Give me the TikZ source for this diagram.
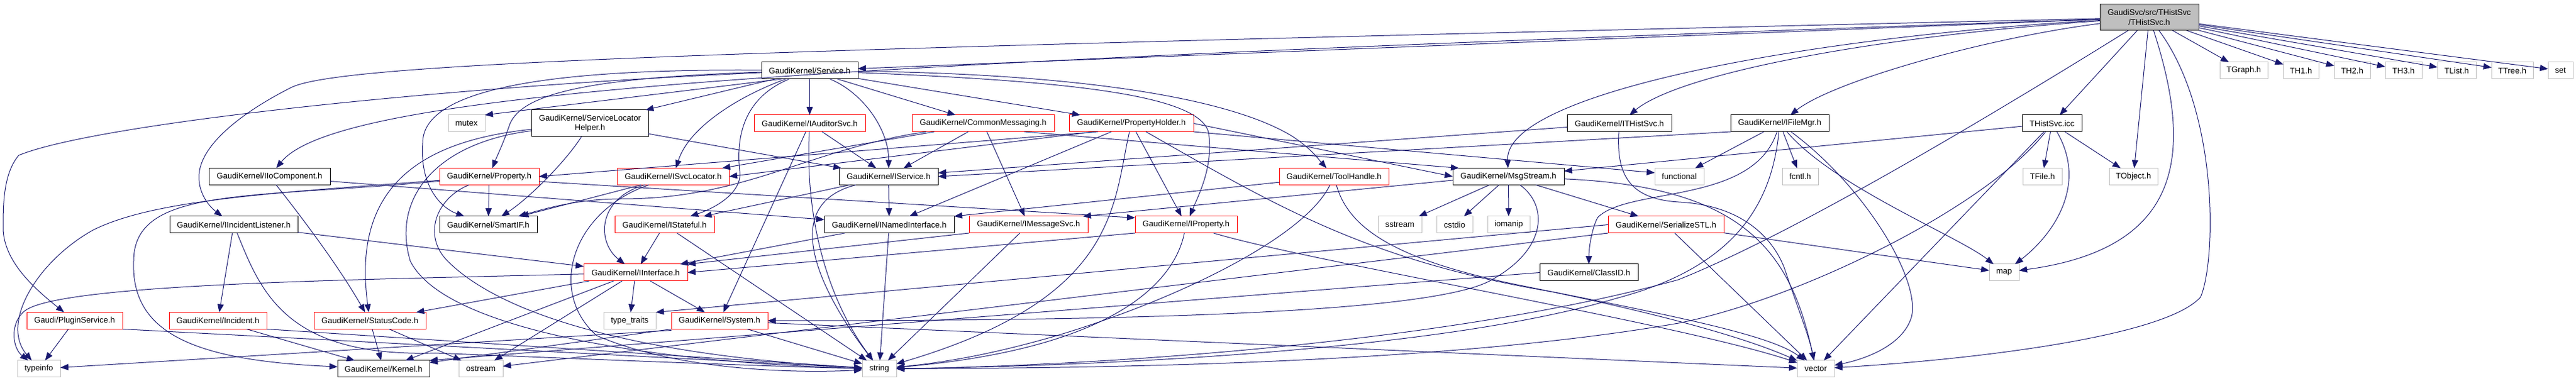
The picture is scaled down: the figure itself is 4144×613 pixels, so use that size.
\documentclass[tikz,border=0pt]{standalone}
\usepackage{fontspec}
\setmainfont{Liberation Sans}
\usetikzlibrary{arrows.meta}
\definecolor{edgec}{HTML}{191970}
\definecolor{grayb}{HTML}{BFBFBF}
\tikzset{
  box/.style={rectangle, inner sep=0pt, outer sep=0pt, line width=0.5pt, align=center, fill=white, minimum height=13.5pt, font=\fontsize{6.55}{7.8}\selectfont},
  nb/.style={box, draw=black},
  rb/.style={box, draw=red},
  gb/.style={box, draw=grayb},
  dep/.style={draw=edgec, line width=0.5pt, -{Triangle[length=6.5pt,width=5pt]}},
}
\begin{document}
\begin{tikzpicture}[x=0.5pt,y=-0.5pt]
\useasboundingbox (0,0) rectangle (4144,613);
% ---------- nodes ----------
\node[nb, fill=grayb, minimum width=79.5pt, minimum height=21pt] (t) at (3457.5,28) {GaudiSvc/src/THistSvc\\/THistSvc.h};
% row 1
\node[nb, minimum width=77.5pt] (sv) at (1302.5,113.5) {GaudiKernel/Service.h};
\node[gb, minimum width=38.5pt] (tgraph) at (3609.5,113.5) {TGraph.h};
\node[gb, minimum width=28.5pt] (th1) at (3701.5,113.5) {TH1.h};
\node[gb, minimum width=29pt] (th2) at (3784,113.5) {TH2.h};
\node[gb, minimum width=29.5pt] (th3) at (3866.5,113.5) {TH3.h};
\node[gb, minimum width=31pt] (tlist) at (3952,113.5) {TList.h};
\node[gb, minimum width=33.5pt] (ttree) at (4041.5,113.5) {TTree.h};
\node[gb, minimum width=20pt] (set) at (4119,113.5) {set};
% row 2
\node[gb, minimum width=29.5pt] (mutex) at (750.5,198.5) {mutex};
\node[nb, minimum width=94pt, minimum height=21.5pt] (slh) at (949,198.5) {GaudiKernel/ServiceLocator\\Helper.h};
\node[rb, minimum width=89.5pt] (ias) at (1302.5,198.5) {GaudiKernel/IAuditorSvc.h};
\node[rb, minimum width=114.5pt] (cm) at (1581.5,198.5) {GaudiKernel/CommonMessaging.h};
\node[rb, minimum width=100pt] (ph) at (1820,198.5) {GaudiKernel/PropertyHolder.h};
\node[nb, minimum width=84pt] (ith) at (2605,198.5) {GaudiKernel/ITHistSvc.h};
\node[nb, minimum width=79pt] (ifm) at (2863,198.5) {GaudiKernel/IFileMgr.h};
\node[nb, minimum width=48pt] (icc) at (3301,198.5) {THistSvc.icc};
% row 3
\node[nb, minimum width=97.5pt] (iio) at (433.5,284) {GaudiKernel/IIoComponent.h};
\node[rb, minimum width=80pt] (pr) at (787,284) {GaudiKernel/Property.h};
\node[rb, minimum width=90pt] (isl) at (1083,284) {GaudiKernel/ISvcLocator.h};
\node[nb, minimum width=79.5pt] (is) at (1429.5,284) {GaudiKernel/IService.h};
\node[rb, minimum width=88pt] (th) at (2146,284) {GaudiKernel/ToolHandle.h};
\node[nb, minimum width=89.5pt] (ms) at (2426.5,284) {GaudiKernel/MsgStream.h};
\node[gb, minimum width=39.5pt] (func) at (2701.5,284) {functional};
\node[gb, minimum width=29pt] (fcntl) at (2896,284) {fcntl.h};
\node[gb, minimum width=31.5pt] (tfile) at (3285.5,284) {TFile.h};
\node[gb, minimum width=39pt] (tobj) at (3432,284) {TObject.h};
% row 4
\node[nb, minimum width=103pt] (iil) at (376,361.5) {GaudiKernel/IIncidentListener.h};
\node[nb, minimum width=78.5pt] (smartif) at (785.5,361.5) {GaudiKernel/SmartIF.h};
\node[rb, minimum width=80pt] (isf) at (1069,361.5) {GaudiKernel/IStateful.h};
\node[nb, minimum width=104.5pt] (ini) at (1430.5,361.5) {GaudiKernel/INamedInterface.h};
\node[rb, minimum width=95.5pt] (ims) at (1654.5,361.5) {GaudiKernel/IMessageSvc.h};
\node[rb, minimum width=82pt] (ipr) at (1908,361.5) {GaudiKernel/IProperty.h};
\node[gb, minimum width=35pt] (sstream) at (2252,361.5) {sstream};
\node[gb, minimum width=29pt] (cstdio) at (2340,361.5) {cstdio};
\node[gb, minimum width=34pt] (iomanip) at (2427,361.5) {iomanip};
\node[rb, minimum width=93pt] (ss) at (2680,361.5) {GaudiKernel/SerializeSTL.h};
% row 5
\node[rb, minimum width=83.5pt] (ii) at (1022.5,438.5) {GaudiKernel/IInterface.h};
\node[nb, minimum width=79pt] (cid) at (2556,438.5) {GaudiKernel/ClassID.h};
\node[gb, minimum width=24pt] (map) at (3224,438.5) {map};
% row 6
\node[rb, minimum width=77pt] (ps) at (120,516) {Gaudi/PluginService.h};
\node[rb, minimum width=78.5pt] (inc) at (350.5,516) {GaudiKernel/Incident.h};
\node[rb, minimum width=90pt] (sc) at (595,516) {GaudiKernel/StatusCode.h};
\node[gb, minimum width=42pt] (tt) at (1013,516) {type\_traits};
\node[rb, minimum width=77.5pt] (sys) at (1157.5,516) {GaudiKernel/System.h};
% row 7
\node[gb, minimum width=34.5pt] (typeinfo) at (62.5,593.5) {typeinfo};
\node[nb, minimum width=74pt] (kernel) at (617,593.5) {GaudiKernel/Kernel.h};
\node[gb, minimum width=35.5pt] (ostream) at (773.5,593.5) {ostream};
\node[gb, minimum width=27.5pt] (str) at (1414.5,593.5) {string};
\node[gb, minimum width=30pt] (vec) at (2921,593.5) {vector};
% ---------- edges ----------
% THistSvc.h
\draw[dep] (t) -- (sv);
\draw[dep] (t) .. controls (3000,60) and (2700,120) .. (ith);
\draw[dep] (t) .. controls (3200,60) and (2950,130) .. (ifm);
\draw[dep] (t) .. controls (2900,60) and (2420,150) .. (ms);
\draw[dep] (t) -- (icc);
\draw[dep] (t) -- (tobj);
\draw[dep] (t) -- (tgraph);
\draw[dep] (t) -- (th1);
\draw[dep] (t) -- (th2);
\draw[dep] (t) -- (th3);
\draw[dep] (t) -- (tlist);
\draw[dep] (t) -- (ttree);
\draw[dep] (t) -- (set);
\draw[dep] (t) .. controls (3530,250) and (3510,400) .. (map);
\draw[dep] (t) .. controls (3570,180) and (3565,420) .. (3540,478) .. controls (3480,545) and (3150,580) .. (vec);
\draw[dep] (t) .. controls (3100,250) and (2850,390) .. (2700,450) .. controls (2300,560) and (1700,590) .. (str);
\draw[dep] (t) .. controls (1400,100) and (550,140) .. (iio);
\draw[dep] (t) .. controls (1200,80) and (560,100) .. (470,140) .. controls (400,175) and (320,230) .. (320,285) .. controls (320,315) and (340,335) .. (iil);
% Service.h
\draw[dep] ([xshift=-10pt]sv.south) ++(-12pt,0) coordinate (svm) (svm) -- (mutex.north east);
\draw[dep] (sv) -- (slh);
\draw[dep] (sv) -- (ias);
\draw[dep] (sv) .. controls (1200,150) and (1110,200) .. (isl);
\draw[dep] (sv) .. controls (1190,160) and (1185,230) .. (1190,275) .. controls (1195,310) and (1150,335) .. (isf);
\draw[dep] (sv) .. controls (950,125) and (840,150) .. (820,200) .. controls (810,230) and (800,250) .. (pr);
\draw[dep] (sv) .. controls (850,110) and (680,150) .. (680,230) .. controls (675,300) and (710,335) .. (smartif);
\draw[dep] (sv) -- (cm);
\draw[dep] (sv) -- (ph);
\draw[dep] (sv) .. controls (1390,150) and (1430,210) .. (is);
\draw[dep] (sv) .. controls (1700,130) and (1945,150) .. (1945,220) .. controls (1950,270) and (1930,310) .. (ipr);
\draw[dep] (sv) .. controls (1800,120) and (2000,170) .. (2080,220) .. controls (2110,240) and (2120,255) .. (th);
\draw[dep] (sv) .. controls (700,140) and (150,200) .. (30,250) .. controls (5,280) and (5,330) .. (5,370) .. controls (8,420) and (50,460) .. (ps);
% ServiceLocatorHelper.h
\draw[dep] (slh) .. controls (910,260) and (850,320) .. (smartif);
\draw[dep] (slh) .. controls (640,230) and (570,330) .. (sc);
\draw[dep] (slh) -- (is);
\draw[dep] (slh) .. controls (700,230) and (630,320) .. (660,420) .. controls (720,540) and (1100,585) .. (str);
% ISvcLocator.h
\draw[dep] (isl) -- (smartif);
\draw[dep] (isl) .. controls (960,320) and (960,390) .. (ii);
\draw[dep] (isl) .. controls (920,340) and (880,470) .. (960,540) .. controls (1100,600) and (1300,600) .. (str);
% Property.h
\draw[dep] (pr) -- (smartif);
\draw[dep] (pr) .. controls (450,310) and (250,320) .. (150,370) .. controls (60,420) and (0,520) .. (typeinfo);
\draw[dep] (pr) .. controls (400,320) and (215,300) .. (215,420) .. controls (210,540) and (320,580) .. (kernel);
\draw[dep] ([yshift=-4pt]pr.east) -- ([yshift=5.5pt]ipr.west);
\draw[dep] (pr) .. controls (700,320) and (680,380) .. (720,420) .. controls (800,500) and (1000,570) .. (str);
% IIoComponent.h
\draw[dep] (iio) .. controls (470,330) and (540,420) .. (sc);
\draw[dep] (iio) -- (ini);
% IIncidentListener.h
\draw[dep] (iil) -- (ii);
\draw[dep] (iil) -- (inc);
\draw[dep] (iil) .. controls (420,470) and (460,575) .. (700,568) .. controls (1000,580) and (1250,590) .. (str);
% Incident.h
\draw[dep] (inc) -- (kernel);
\draw[dep] (inc.south east) -- (str);
% PluginService.h
\draw[dep] (ps) -- (typeinfo);
\draw[dep] (ps.south east) -- (str);
% StatusCode.h
\draw[dep] (sc) -- (kernel);
\draw[dep] (sc) -- (ostream);
% IInterface.h
\draw[dep] (ii) -- (kernel);
\draw[dep] (ii) -- (sc);
\draw[dep] (ii) -- (sys);
\draw[dep] (ii) -- (ostream);
\draw[dep] (ii) -- (tt);
\draw[dep] (ii) .. controls (600,450) and (100,455) .. (40,500) .. controls (15,520) and (20,560) .. (typeinfo);
% System.h
\draw[dep] ([yshift=-1pt]sys.south west) -- (typeinfo);
\draw[dep] (sys) -- (str);
\draw[dep] (sys) -- (vec);
\draw[dep] (sys.south west) -- (kernel);
% IAuditorSvc.h
\draw[dep] (ias) -- (sys);
\draw[dep] (ias) .. controls (1295,350) and (1330,480) .. (str);
\draw[dep] (ias) -- (is);
% CommonMessaging.h
\draw[dep] (cm) -- (is);
\draw[dep] (cm) -- (ims);
\draw[dep] (cm) .. controls (1300,240) and (1200,320) .. (1000,320) .. controls (930,320) and (880,335) .. (smartif);
\draw[dep] ([xshift=-24pt]cm.south east) -- ([xshift=5pt]ms.north west);
\draw[dep] (cm) -- (isl);
% PropertyHolder.h
\draw[dep] (ph) -- (ini);
\draw[dep] (ph) -- (ipr);
\draw[dep] (ph) .. controls (1790,330) and (1800,480) .. (str);
\draw[dep] ([xshift=23pt]ph.south west) -- (pr.east);
\draw[dep] ([xshift=20pt]ph.south west) -- (isl.east);
\draw[dep] (ph.east) -- (ms.west);
\draw[dep] (ph.south east) -- ([yshift=3pt]func.west);
\draw[dep] (ph) .. controls (2050,330) and (2200,420) .. (2500,470) .. controls (2700,510) and (2850,540) .. (vec);
% ITHistSvc.h
\draw[dep] (ith) -- (is);
\draw[dep] (ith) .. controls (2600,280) and (2620,320) .. (2700,325) .. controls (2800,330) and (2850,380) .. (2870,430) .. controls (2890,490) and (2910,540) .. (vec);
% IFileMgr.h
\draw[dep] (ifm.south west) -- (is.east);
\draw[dep] (ifm) -- (func);
\draw[dep] (ifm) -- (fcntl);
\draw[dep] (ifm) .. controls (2950,300) and (3150,380) .. (map);
\draw[dep] (ifm) .. controls (3000,300) and (3090,450) .. (3075,510) .. controls (3060,560) and (2990,580) .. (vec);
\draw[dep] (ifm) .. controls (2820,330) and (2620,300) .. (2570,350) .. controls (2560,370) and (2556,400) .. (cid);
\draw[dep] (ifm) .. controls (2850,330) and (2790,430) .. (2600,480) .. controls (2300,570) and (1700,590) .. (str);
% THistSvc.icc
\draw[dep] (icc) -- (ms);
\draw[dep] (icc) -- (tfile);
\draw[dep] (icc) -- (tobj);
\draw[dep] (icc) .. controls (3360,300) and (3300,380) .. (map);
\draw[dep] (icc) -- (vec);
\draw[dep] (icc) .. controls (3200,330) and (2900,480) .. (2700,520) .. controls (2300,590) and (1700,592) .. (str);
% MsgStream.h
\draw[dep] (ms) -- (sstream);
\draw[dep] (ms) -- (cstdio);
\draw[dep] (ms) -- (iomanip);
\draw[dep] (ms) -- (ss);
\draw[dep] ([yshift=-3pt]ms.west) -- ([xshift=-4pt]ims.north east);
\draw[dep] (ms) .. controls (2490,330) and (2490,400) .. (2400,450) .. controls (2300,510) and (1700,516) .. (sys);
\draw[dep] (ms) .. controls (2800,300) and (2880,400) .. (vec);
% ToolHandle.h
\draw[dep] (th) -- (ini.north east);
\draw[dep] (th) .. controls (2100,380) and (1900,480) .. (1700,540) .. controls (1580,575) and (1500,585) .. (str);
\draw[dep] (th) .. controls (2170,370) and (2250,420) .. (2450,460) .. controls (2650,500) and (2800,540) .. (vec);
% SerializeSTL.h
\draw[dep] (ss) -- (map);
\draw[dep] (ss) -- (vec);
\draw[dep] (ss.south west) -- (ostream);
\draw[dep] (ss.west) -- (tt.north east);
% IStateful.h
\draw[dep] (isf) -- (ii);
\draw[dep] (isf) -- (str);
% INamedInterface.h
\draw[dep] (ini) -- (ii);
\draw[dep] (ini) -- (str);
% IService.h
\draw[dep] (is) -- (ini);
\draw[dep] (is) -- (isf);
\draw[dep] (is) .. controls (1250,330) and (1320,470) .. (str);
% IMessageSvc.h
\draw[dep] (ims) -- (str);
\draw[dep] (ims.south west) -- (ii.north east);
% IProperty.h
\draw[dep] (ipr.south west) -- (ii.east);
\draw[dep] (ipr) .. controls (1890,450) and (1800,560) .. (str);
\draw[dep] (ipr) .. controls (2100,420) and (2700,520) .. (vec);
% ClassID.h
\draw[dep] (cid.west) -- (kernel.north east);
\end{tikzpicture}
\end{document}
